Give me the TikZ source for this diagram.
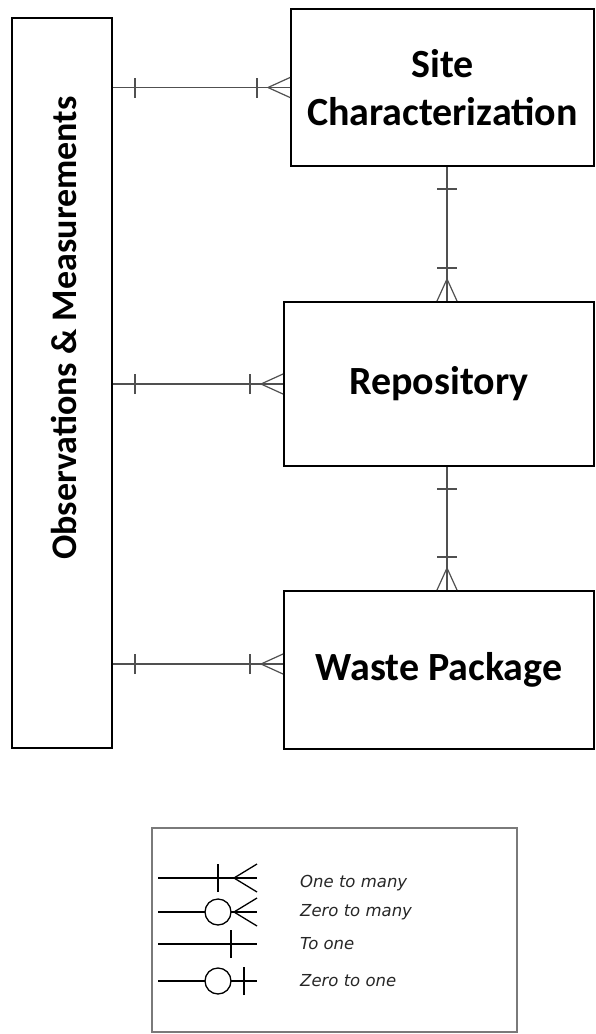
\documentclass[tikz,border=0pt]{standalone}
\usepackage{fontspec}
\setmainfont{Carlito}
\newfontfamily\keyfont{DejaVu Sans}
\usepackage{tikz}
\usetikzlibrary{shapes,arrows,positioning,decorations.markings}
\definecolor{relgray}{HTML}{505050}
\definecolor{keygray}{HTML}{7A7A7A}

\tikzset{
  bar at/.style={postaction={decorate, decoration={markings,
    mark=at position #1 with {\draw (0,-14pt) -- (0,14pt);}}}},
  ring at/.style={postaction={decorate, decoration={markings,
    mark=at position #1 with {\draw[fill=white] (0,0) circle (13pt);}}}},
  crow end/.style={postaction={decorate, decoration={markings,
    mark=at position 1 with {\draw (-23pt,0) -- (0,-14pt) (-23pt,0) -- (0,14pt);}}}}
}

\begin{document}
\begin{tikzpicture}[x=1pt,y=-1pt]
\tikzstyle{entity} = [rectangle, draw, line width=2pt, inner sep=0pt,
    align=center, font=\fontsize{40}{48}\selectfont\bfseries]
\tikzstyle{rel} = [draw, color=relgray, line width=1.2pt,
    postaction={decorate, decoration={markings,
      mark=at position 22pt with {\draw (0,-10pt) -- (0,10pt);},
      mark=at position -33pt with {\draw (0,-10pt) -- (0,10pt);},
      mark=at position 1 with {\draw (-22pt,0) -- (0,-10pt) (-22pt,0) -- (0,10pt);}}}]
\tikzstyle{keyline} = [draw, line width=1.3pt]
\tikzstyle{keytext} = [inner sep=0pt, font=\keyfont\itshape\fontsize{16.5}{19}\selectfont, text=black!85]

\useasboundingbox (0,0) rectangle (596,1034);

\node [entity, minimum width=100pt, minimum height=730pt] (obs) at (62,383) {};
\node [rotate=90, font=\fontsize{36}{40}\selectfont\bfseries] (obstext) at (64,328) {Observations \& Measurements};
\node [entity, minimum width=303pt, minimum height=157pt] (site) at (442.5,87.5) {Site\\Characterization};
\node [entity, minimum width=310pt, minimum height=164pt] (repo) at (439,384) {Repository};
\node [entity, minimum width=310pt, minimum height=158pt] (waste) at (439,670) {Waste Package};
\coordinate (axis) at (447,0);

\path [rel] (obs.east |- site.west) -- (site.west);
\path [rel] (obs.east |- repo.west) -- (repo.west);
\path [rel] ([yshift=6pt]obs.east |- waste.west) -- ([yshift=6pt]waste.west);
\path [rel] (site.south -| axis) -- (repo.north -| axis);
\path [rel] (repo.south -| axis) -- (waste.north -| axis);

\node [draw=keygray, line width=2pt, minimum width=365pt, minimum height=204pt] (key) at (334.5,930) {};

\coordinate (k1a) at (158,878);  \coordinate (k1b) at (257,878);
\coordinate (k2a) at (158,912);  \coordinate (k2b) at (257,912);
\coordinate (k3a) at (158,944);  \coordinate (k3b) at (257,944);
\coordinate (k4a) at (158,981);  \coordinate (k4b) at (257,981);

\path [keyline, bar at=60pt, crow end] (k1a) -- (k1b);
\path [keyline, ring at=60pt, crow end] (k2a) -- (k2b);
\path [keyline, bar at=73pt] (k3a) -- (k3b);
\path [keyline, ring at=60pt, bar at=86pt] (k4a) -- (k4b);

\node [keytext, right=43pt of k1b, yshift=-5pt] (one2many) {One to many};
\node [keytext, right=43pt of k2b] (zero2many) {Zero to many};
\node [keytext, right=43pt of k3b] (toone) {To one};
\node [keytext, right=43pt of k4b] (zero2one) {Zero to one};

\end{tikzpicture}
\end{document}
